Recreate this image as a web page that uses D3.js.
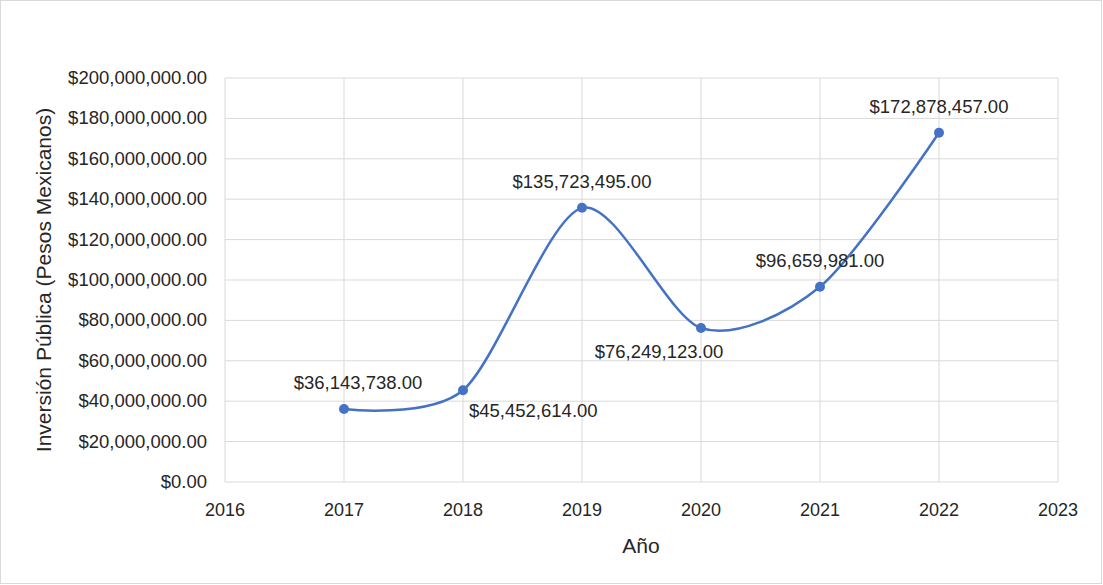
<!DOCTYPE html>
<html><head><meta charset="utf-8">
<script src="https://cdn.jsdelivr.net/npm/d3@7"></script>
<style>body{margin:0;background:#fff}text{font-family:"Liberation Sans",Arial,sans-serif;fill:#262626}</style>
</head><body>
<svg width="1103" height="585"></svg>
<script>
const years = [2017, 2018, 2019, 2020, 2021, 2022];
const values = [36143738, 45452614, 135723495, 76249123, 96659981, 172878457];
// label placement per point: [dx, dy, anchor]
const labelPos = [[14, -20, "middle"], [6, 27, "start"], [0, -20, "middle"], [-42, 30, "middle"], [0, -20, "middle"], [0, -20, "middle"]];

const svg = d3.select('svg');
svg.append('rect').attr('x', 0.5).attr('y', 0.5).attr('width', 1101).attr('height', 583)
   .attr('fill', '#fff').attr('stroke', '#d9d9d9');

const x = d3.scaleLinear().domain([2016, 2023]).range([225, 1058]);
const y = d3.scaleLinear().domain([0, 200000000]).range([482, 78]);
const money = d => '$' + d3.format(',.2f')(d);

const grid = svg.append('g').attr('stroke', '#d9d9d9').attr('stroke-width', 1);
grid.selectAll('.h').data(d3.range(0, 200000001, 20000000)).join('line')
  .attr('x1', 225).attr('x2', 1058).attr('y1', d => y(d)).attr('y2', d => y(d));
grid.selectAll('.v').data(d3.range(2016, 2024)).join('line')
  .attr('x1', d => x(d)).attr('x2', d => x(d)).attr('y1', 78).attr('y2', 482);

svg.append('g').selectAll('text').data(d3.range(0, 200000001, 20000000)).join('text')
  .attr('x', 207).attr('y', d => y(d) + 6).attr('text-anchor', 'end').attr('font-size', 18.5)
  .text(money);
svg.append('g').selectAll('text').data(d3.range(2016, 2024)).join('text')
  .attr('x', d => x(d)).attr('y', 516).attr('text-anchor', 'middle').attr('font-size', 18)
  .text(d => d);

svg.append('text').attr('x', 641).attr('y', 553).attr('text-anchor', 'middle').attr('font-size', 21).text('Año');
svg.append('text').attr('transform', 'translate(51,280) rotate(-90)').attr('text-anchor', 'middle')
  .attr('font-size', 21).text('Inversión Pública (Pesos Mexicanos)');

const pts = years.map((yr, i) => [x(yr), y(values[i])]);
svg.append('path').attr('d', d3.line().curve(d3.curveCardinal.tension(0.15))(pts))
  .attr('fill', 'none').attr('stroke', '#4472c4').attr('stroke-width', 2.5);
svg.append('g').selectAll('circle').data(pts).join('circle')
  .attr('cx', d => d[0]).attr('cy', d => d[1]).attr('r', 5).attr('fill', '#4472c4');

svg.append('g').selectAll('text').data(values).join('text')
  .attr('x', (d, i) => pts[i][0] + labelPos[i][0]).attr('y', (d, i) => pts[i][1] + labelPos[i][1])
  .attr('text-anchor', (d, i) => labelPos[i][2]).attr('font-size', 18.5)
  .text(money);
</script>
</body></html>
